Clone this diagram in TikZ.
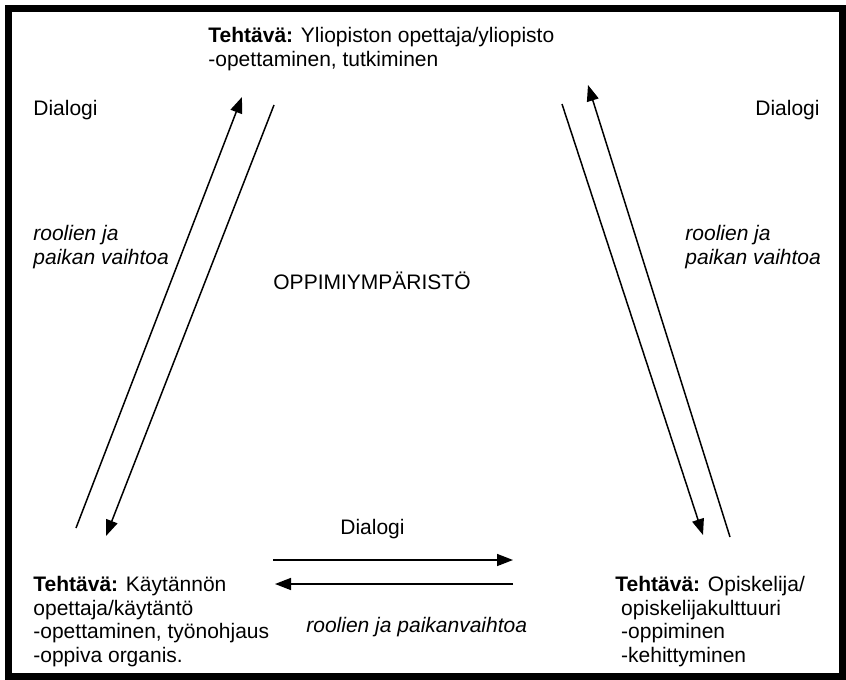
\documentclass[tikz,border=0pt]{standalone}
\usepackage{fontspec}
\setmainfont{Liberation Sans}
\usetikzlibrary{arrows.meta}

\begin{document}
\begin{tikzpicture}[x=0.5pt, y=-0.5pt,
  every node/.style={inner sep=0pt, font=\fontsize{10.5}{11.75}\selectfont},
  txt/.style={align=left},
  arr/.style={line width=0.75pt, -{Triangle[length=8pt, width=6pt]}}]

\useasboundingbox (0,0) rectangle (846,680);

% Frame round the whole picture
\draw[line width=3.5pt] (8.5,8.5) rectangle (842.5,676.5);

% End points of the arrows
\coordinate (LupS) at (76,528);
\coordinate (LupE) at (242,97);
\coordinate (LdnS) at (274,105);
\coordinate (LdnE) at (106,536);
\coordinate (RdnS) at (562,104);
\coordinate (RdnE) at (703,535);
\coordinate (RupS) at (730,537);
\coordinate (RupE) at (588,85);
\coordinate (BrS) at (273,560);
\coordinate (BrE) at (513,560);
\coordinate (BlS) at (513,584);
\coordinate (BlE) at (275,584);

% Left pair
\draw[arr] (LupS) -- (LupE);
\draw[arr] (LdnS) -- (LdnE);

% Right pair
\draw[arr] (RdnS) -- (RdnE);
\draw[arr] (RupS) -- (RupE);

% Bottom pair
\draw[arr] (BrS) -- (BrE);
\draw[arr] (BlS) -- (BlE);

% Labels
\node[txt, anchor=north west] (yliopisto) at (208,27)
  {\textbf{Tehtävä:} Yliopiston opettaja/yliopisto\\-opettaminen, tutkiminen};
\node[anchor=west] (dialogiL) at (33,110) {Dialogi};
\node[anchor=east] (dialogiR) at (820,110) {Dialogi};
\node[txt, anchor=north west] (vaihtoL) at (33,225) {\itshape roolien ja\\\itshape paikan vaihtoa};
\node[txt, anchor=north west] (vaihtoR) at (685,225) {\itshape roolien ja\\\itshape paikan vaihtoa};
\node (ymparisto) at (372,281) {OPPIMIYMPÄRISTÖ};
\node[anchor=west] (dialogiB) at (340,529) {Dialogi};
\node[anchor=west] (vaihtoB) at (306,627) {\itshape roolien ja paikanvaihtoa};
\node[txt, anchor=north west] (kaytanto) at (33,576)
  {\textbf{Tehtävä:} Käytännön\\opettaja/käytäntö\\-opettaminen, työnohjaus\\-oppiva organis.};
\node[txt, anchor=north west] (opiskelija) at (615,576)
  {\textbf{Tehtävä:} Opiskelija/\\\ opiskelijakulttuuri\\\ -oppiminen\\\ -kehittyminen};

\end{tikzpicture}
\end{document}
